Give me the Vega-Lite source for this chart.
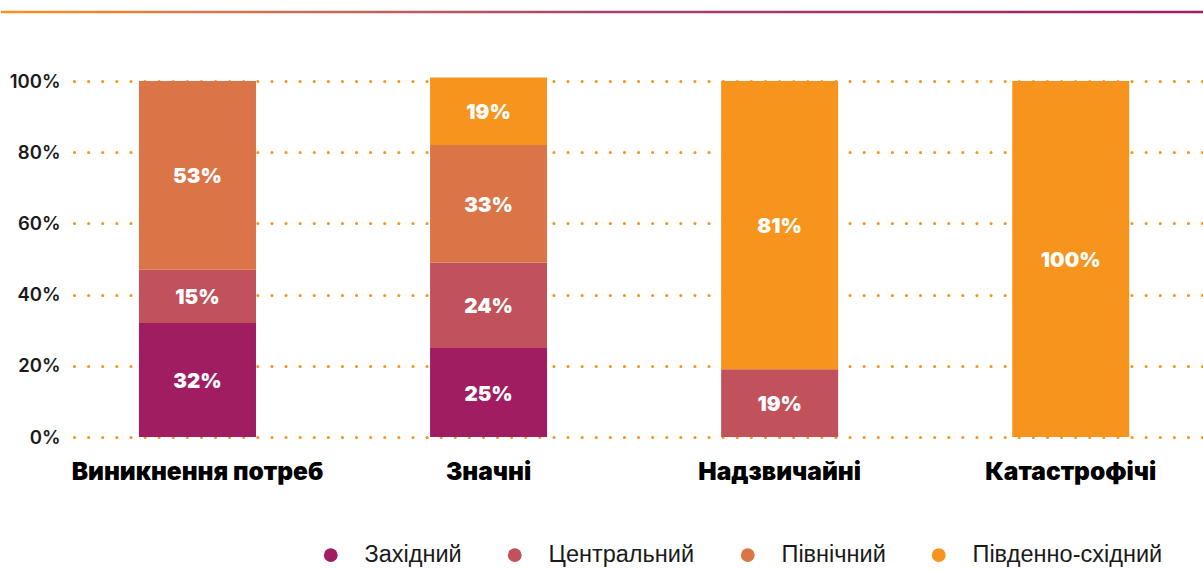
{
  "$schema": "https://vega.github.io/schema/vega-lite/v6.json",
  "padding": {"left": 0, "top": 10, "right": 0, "bottom": 0},
  "background": "white",
  "width": 1130,
  "height": 356,
  "config": {"view": {"stroke": null}},
  "datasets": {
    "shares": [
      {"cat": "Виникнення потреб", "region": "Західний", "ord": 1, "v": 0.32},
      {"cat": "Виникнення потреб", "region": "Центральний", "ord": 2, "v": 0.15},
      {"cat": "Виникнення потреб", "region": "Північний", "ord": 3, "v": 0.53},
      {"cat": "Значні", "region": "Західний", "ord": 1, "v": 0.25},
      {"cat": "Значні", "region": "Центральний", "ord": 2, "v": 0.24},
      {"cat": "Значні", "region": "Північний", "ord": 3, "v": 0.33},
      {"cat": "Значні", "region": "Південно-східний", "ord": 4, "v": 0.19},
      {"cat": "Надзвичайні", "region": "Центральний", "ord": 2, "v": 0.19},
      {"cat": "Надзвичайні", "region": "Південно-східний", "ord": 4, "v": 0.81},
      {"cat": "Катастрофічі", "region": "Південно-східний", "ord": 4, "v": 1.0}
    ],
    "band": [{"k": 1}]
  },
  "resolve": {"scale": {"x": "independent"}, "axis": {"x": "independent"}},
  "layer": [
    {
      "data": {"name": "band"},
      "mark": {
        "type": "rect",
        "color": {
          "gradient": "linear",
          "x1": 0, "x2": 1, "y1": 0, "y2": 0,
          "stops": [
            {"offset": 0, "color": "#F7941D"},
            {"offset": 0.25, "color": "#CC6A58"},
            {"offset": 0.5, "color": "#A9416B"},
            {"offset": 1, "color": "#A01D62"}
          ]
        }
      },
      "encoding": {
        "x": {"datum": 0, "type": "quantitative", "scale": {"domain": [0.0607, 1], "nice": false, "zero": false}, "axis": null},
        "x2": {"datum": 1},
        "y": {"datum": 1.197, "type": "quantitative"},
        "y2": {"datum": 1.19}
      }
    },
    {
      "data": {"name": "shares"},
      "transform": [
        {"stack": "v", "groupby": ["cat"], "sort": [{"field": "ord", "order": "ascending"}], "as": ["y0", "y1"]}
      ],
      "encoding": {
        "x": {
          "field": "cat",
          "type": "nominal",
          "sort": ["Виникнення потреб", "Значні", "Надзвичайні", "Катастрофічі"],
          "scale": {"paddingInner": 0.598, "paddingOuter": 0.24, "align": 0.465},
          "axis": {
            "title": null,
            "labelAngle": 0,
            "domain": false,
            "ticks": false,
            "labelPadding": 23,
            "labelLimit": 0,
            "labelFont": "Inter",
            "labelFontWeight": 900,
            "labelFontSize": 24.5,
            "labelColor": "#000000"
          }
        }
      },
      "layer": [
        {
          "mark": {"type": "bar"},
          "encoding": {
            "y": {
              "field": "y0",
              "type": "quantitative",
              "scale": {"domain": [0, 1], "nice": false},
              "axis": {
                "title": null,
                "values": [0, 0.2, 0.4, 0.6, 0.8, 1],
                "format": ".0%",
                "domain": false,
                "ticks": false,
                "labelPadding": 14,
                "labelFont": "Inter",
                "labelFontWeight": 600,
                "labelFontSize": 18.5,
                "labelColor": "#1a1a1a",
                "grid": true,
                "gridColor": "#F7941D",
                "gridDash": [0.1, 14],
                "gridCap": "round",
                "gridWidth": 3
              }
            },
            "y2": {"field": "y1"},
            "color": {
              "field": "region",
              "type": "nominal",
              "scale": {
                "domain": ["Західний", "Центральний", "Північний", "Південно-східний"],
                "range": ["#A01D62", "#C1515A", "#DB7548", "#F7941D"]
              },
              "legend": {
                "title": null,
                "orient": "none",
                "legendX": 245,
                "legendY": 462,
                "direction": "horizontal",
                "symbolType": "circle",
                "symbolSize": 190,
                "symbolStrokeWidth": 0,
                "labelFont": "Liberation Sans",
                "labelFontSize": 23.5,
                "labelColor": "#1a1a1a",
                "labelOffset": 22,
                "labelLimit": 0,
                "columnPadding": 41
              }
            }
          }
        },
        {
          "transform": [
            {"fold": ["y0", "y1"], "as": ["end", "pos"]},
            {"aggregate": [{"op": "mean", "field": "pos", "as": "mid"}], "groupby": ["cat", "region", "v"]}
          ],
          "mark": {"type": "text", "color": "white", "font": "Inter", "fontWeight": 900, "fontSize": 20.5, "baseline": "middle", "dy": 2},
          "encoding": {
            "y": {"field": "mid", "type": "quantitative"},
            "text": {"field": "v", "type": "quantitative", "format": ".0%"}
          }
        }
      ]
    }
  ]
}
